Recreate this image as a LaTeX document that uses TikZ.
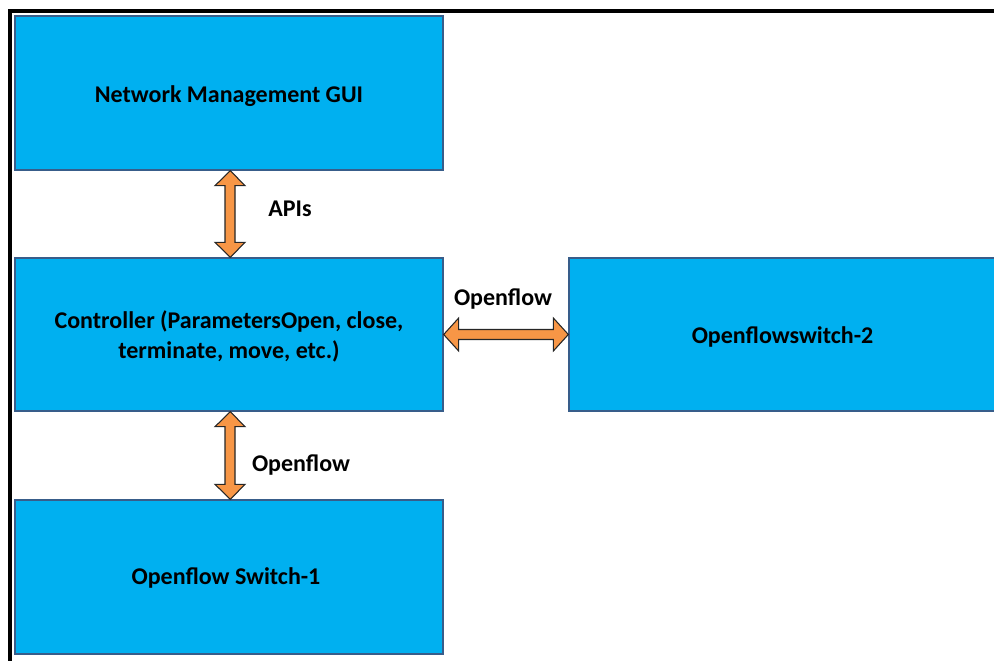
\documentclass[tikz,border=0pt]{standalone}
\usepackage{fontspec}
\setmainfont{Carlito}
\usetikzlibrary{calc}
\definecolor{boxfill}{HTML}{00B0F0}
\definecolor{boxline}{HTML}{385D8A}
\definecolor{arrfill}{HTML}{F79646}
\tikzset{
  box/.style={draw=boxline, line width=1pt, fill=boxfill, inner sep=0pt,
    font=\fontsize{18}{22.5}\selectfont\bfseries, align=center},
  lbl/.style={font=\fontsize{18}{22.5}\selectfont\bfseries, inner sep=0pt},
  arr/.style={draw=black!85, line width=0.8pt, fill=arrfill, line join=miter},
  frame/.style={draw=black, line width=3pt}
}
\newcommand{\lowertext}[2]{\raisebox{0pt}[\dimexpr\height+#1\relax][\depth]{#2}}
% vertical double arrow between bottom of #1 and top of #2, x-offset #3
\newcommand{\vdarrow}[3]{%
  \draw[arr] ([xshift=#3]#1.south)
    -- ([shift={(#3+15,15)}]#1.south) -- ([shift={(#3+5,15)}]#1.south)
    -- ([shift={(#3+5,-15)}]#2.north) -- ([shift={(#3+15,-15)}]#2.north)
    -- ([xshift=#3]#2.north)
    -- ([shift={(#3-15,-15)}]#2.north) -- ([shift={(#3-5,-15)}]#2.north)
    -- ([shift={(#3-5,15)}]#1.south) -- ([shift={(#3-15,15)}]#1.south)
    -- cycle;}
\newcommand{\hdarrow}[2]{%
  \draw[arr] (#1.east)
    -- ([shift={(15,-16.5)}]#1.east) -- ([shift={(15,-5)}]#1.east)
    -- ([shift={(-15,-5)}]#2.west) -- ([shift={(-15,-16.5)}]#2.west)
    -- (#2.west)
    -- ([shift={(-15,16.5)}]#2.west) -- ([shift={(-15,5)}]#2.west)
    -- ([shift={(15,5)}]#1.east) -- ([shift={(15,16.5)}]#1.east)
    -- cycle;}
\begin{document}
\begin{tikzpicture}[x=0.75pt, y=-0.75pt]
\useasboundingbox (0,0) rectangle (994,660);
\begin{scope}
\clip (0,0) rectangle (994,660);
\node[box, minimum width=321pt, minimum height=115.5pt] (gui) at (229,93) {\lowertext{4pt}{Network Management GUI}};
\node[box, minimum width=321pt, minimum height=114.75pt] (ctrl) at (229,334.5) {\lowertext{4pt}{\begin{tabular}{@{}c@{}}Controller (ParametersOpen, close,\\terminate, move, etc.)\end{tabular}}};
\node[box, minimum width=321pt, minimum height=115.5pt] (sw1) at (229,577) {\lowertext{2pt}{Openflow Switch-1}\hspace{4.5pt}};
\node[box, minimum width=320.25pt, minimum height=114.75pt] (sw2) at (782.5,334.5) {\lowertext{4pt}{Openflowswitch-2}};
\vdarrow{gui}{ctrl}{1}
\vdarrow{ctrl}{sw1}{1}
\hdarrow{ctrl}{sw2}
\node[lbl] (apis) at (290,209) {APIs};
\node[lbl] (of1) at (503,299) {Openflow};
\node[lbl] (of2) at (301,465) {Openflow};
\coordinate (fa) at (10,662);
\coordinate (fb) at (10,11);
\coordinate (fc) at (996,11);
\draw[frame] (fa) -- (fb) -- (fc);
\end{scope}
\end{tikzpicture}
\end{document}
